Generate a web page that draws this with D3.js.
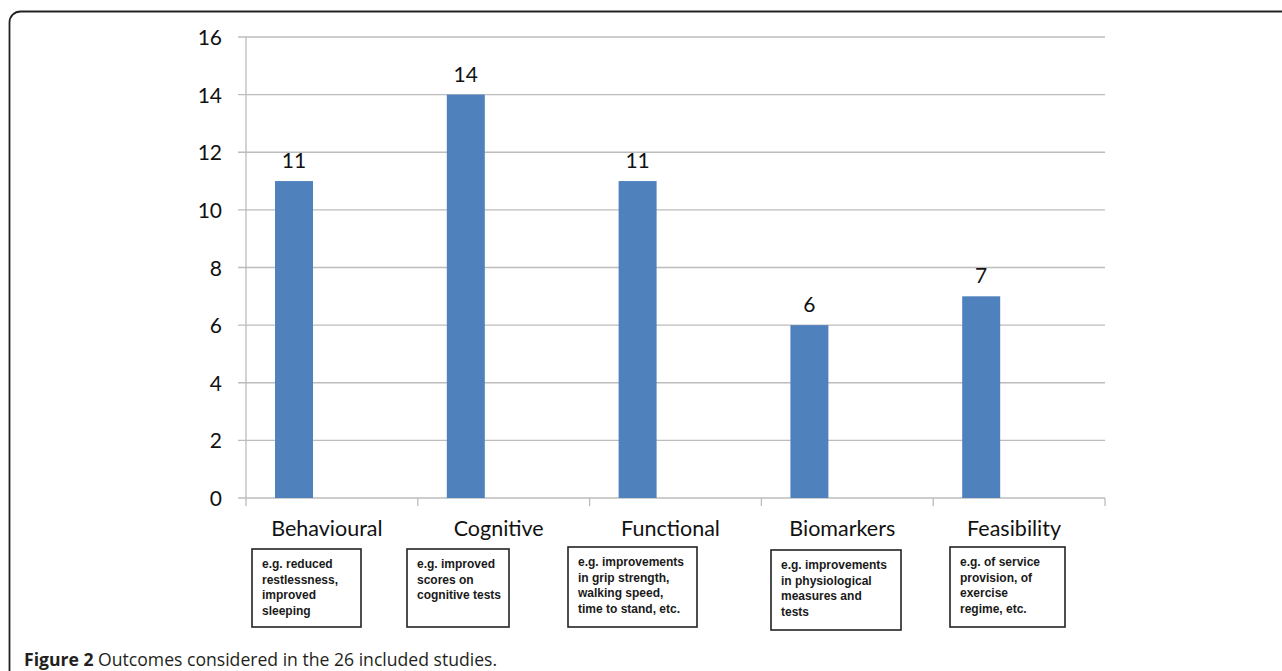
<!DOCTYPE html>
<html>
<head>
<meta charset="utf-8">
<script src="https://cdn.jsdelivr.net/npm/d3@7"></script>
<style>
  html, body { margin: 0; padding: 0; background: #fff; }
  svg { display: block; }
</style>
</head>
<body>
<svg id="chart" width="1282" height="671"></svg>
<script>
const categories = ["Behavioural", "Cognitive", "Functional", "Biomarkers", "Feasibility"];
const values = [11, 14, 11, 6, 7];
const descriptions = [
  ["e.g. reduced", "restlessness,", "improved", "sleeping"],
  ["e.g. improved", "scores on", "cognitive tests"],
  ["e.g. improvements", "in grip strength,", "walking speed,", "time to stand, etc."],
  ["e.g. improvements", "in physiological", "measures and", "tests"],
  ["e.g. of service", "provision, of", "exercise", "regime, etc."]
];
const yTicks = [0, 2, 4, 6, 8, 10, 12, 14, 16];
const captionBold = "Figure 2";
const captionText = " Outcomes considered in the 26 included studies.";

(function () {
const svg = d3.select("#chart");

// outer frame
svg.append("rect")
  .attr("x", 9.5).attr("y", 11.5)
  .attr("width", 1300).attr("height", 700)
  .attr("rx", 11).attr("ry", 11)
  .attr("fill", "none").attr("stroke", "#222").attr("stroke-width", 1.8);

const pLeft = 246, pRight = 1105, pTop = 37, pBottom = 498;

const x = d3.scaleBand().domain(categories).range([pLeft, pRight]).padding(0);
const y = d3.scaleLinear().domain([0, 16]).range([pBottom, pTop]);

// gridlines
svg.append("g").selectAll("line").data(yTicks).join("line")
  .attr("x1", pLeft - 8).attr("x2", pRight)
  .attr("y1", d => y(d)).attr("y2", d => y(d))
  .attr("stroke", "#bcbcbc").attr("stroke-width", 1.3);

// y axis line
svg.append("line")
  .attr("x1", pLeft).attr("x2", pLeft).attr("y1", pTop).attr("y2", pBottom + 8)
  .attr("stroke", "#bcbcbc").attr("stroke-width", 1.3);

// x category separators
svg.append("g").selectAll("line").data(categories.slice(1)).join("line")
  .attr("x1", d => x(d)).attr("x2", d => x(d))
  .attr("y1", pBottom).attr("y2", pBottom + 8)
  .attr("stroke", "#bcbcbc").attr("stroke-width", 1.3);
svg.append("line")
  .attr("x1", pRight).attr("x2", pRight).attr("y1", pBottom).attr("y2", pBottom + 8)
  .attr("stroke", "#bcbcbc").attr("stroke-width", 1.3);

// y tick labels
svg.append("g").selectAll("text").data(yTicks).join("text")
  .attr("x", 222).attr("y", d => y(d) + 8)
  .attr("text-anchor", "end")
  .attr("font-family", "Lato, 'Open Sans', sans-serif")
  .attr("font-size", 21).attr("fill", "#111")
  .text(d => d);

const barOffset = 29, barW = 38;

// bars
svg.append("g").selectAll("rect").data(values).join("rect")
  .attr("x", (d, i) => x(categories[i]) + barOffset)
  .attr("width", barW)
  .attr("y", d => y(d))
  .attr("height", d => y(0) - y(d))
  .attr("fill", "#4f81bd");

// value labels
svg.append("g").selectAll("text").data(values).join("text")
  .attr("x", (d, i) => x(categories[i]) + barOffset + barW / 2)
  .attr("y", d => y(d) - 13)
  .attr("text-anchor", "middle")
  .attr("font-family", "Lato, 'Open Sans', sans-serif")
  .attr("font-size", 21).attr("fill", "#111")
  .text(d => d);

// category labels
svg.append("g").selectAll("text").data(categories).join("text")
  .attr("x", d => x(d) + x.bandwidth() / 2 - 5)
  .attr("y", 536)
  .attr("text-anchor", "middle")
  .attr("font-family", "Lato, 'Open Sans', sans-serif")
  .attr("font-size", 21.5).attr("fill", "#111")
  .text(d => d);

// description boxes
const boxes = [
  {x: 252, y: 549, w: 109, h: 78},
  {x: 407, y: 549, w: 102, h: 78},
  {x: 568, y: 547, w: 129, h: 80},
  {x: 771, y: 550, w: 130, h: 80},
  {x: 950, y: 547, w: 115, h: 80}
];
const bg = svg.append("g");
descriptions.forEach((lines, i) => {
  const b = boxes[i];
  bg.append("rect")
    .attr("x", b.x).attr("y", b.y).attr("width", b.w).attr("height", b.h)
    .attr("fill", "#fff").attr("stroke", "#222").attr("stroke-width", 1.6);
  const t = bg.append("text")
    .attr("font-family", "'Liberation Sans', Arial, sans-serif")
    .attr("font-weight", "bold")
    .attr("font-size", 12).attr("fill", "#1a1a1a");
  lines.forEach((ln, j) => {
    t.append("tspan").attr("x", b.x + 10).attr("y", b.y + 19 + j * 15.5).text(ln);
  });
});

// caption
const cap = svg.append("text")
  .attr("x", 24).attr("y", 666)
  .attr("font-family", "'Open Sans', 'Noto Sans', sans-serif")
  .attr("font-size", 17.6).attr("fill", "#231f20");
cap.append("tspan").attr("font-weight", "bold").text(captionBold);
cap.append("tspan").text(captionText);
})();
</script>
</body>
</html>
